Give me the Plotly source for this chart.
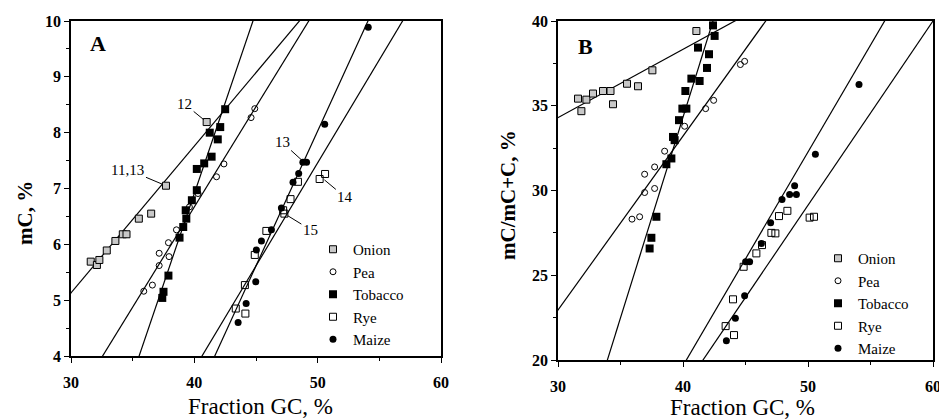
import plotly.graph_objects as go

# ---------------- Panel A data (mC, %) ----------------
A_onion_x = [31.6, 32.1, 32.3, 32.9, 33.6, 34.2, 34.5, 35.5, 36.5, 37.7, 41.0]
A_onion_y = [5.69, 5.63, 5.72, 5.89, 6.06, 6.18, 6.18, 6.46, 6.55, 7.05, 8.19]
A_pea_x = [35.9, 36.6, 37.15, 37.15, 37.9, 37.95, 38.55, 39.6, 40.3, 41.8, 42.4, 44.6, 44.9]
A_pea_y = [5.16, 5.27, 5.62, 5.84, 6.03, 5.78, 6.26, 6.67, 6.91, 7.21, 7.44, 8.27, 8.43]
A_tob_x = [37.4, 37.5, 37.9, 38.8, 39.1, 39.3, 39.35, 39.8, 40.2, 40.2, 40.8, 41.4, 41.25, 41.9, 42.1, 42.5]
A_tob_y = [5.04, 5.15, 5.44, 6.12, 6.31, 6.61, 6.46, 6.79, 6.97, 7.35, 7.45, 7.57, 8.0, 7.88, 8.10, 8.42]
A_rye_x = [43.36, 44.14, 44.1, 44.9, 45.84, 47.2, 47.3, 47.8, 48.4, 50.16, 50.6]
A_rye_y = [4.85, 4.76, 5.27, 5.81, 6.24, 6.61, 6.55, 6.81, 7.12, 7.17, 7.26]
A_maize_x = [43.55, 44.2, 44.98, 45.03, 45.44, 46.25, 47.06, 48.0, 48.46, 48.8, 49.1, 50.57, 54.1]
A_maize_y = [4.60, 4.94, 5.33, 5.90, 6.06, 6.26, 6.65, 7.11, 7.27, 7.47, 7.47, 8.15, 9.89]

# regression lines (slope, intercept) for panel A: onion, pea, tobacco, rye, maize
A_fit_slope = [0.263, 0.359, 0.65, 0.369, 0.483]
A_fit_icpt = [-2.76, -7.69, -19.09, -10.99, -16.12]

# ---------------- Panel B data (mC/mC+C, %) ----------------
B_onion_x = [31.6, 31.87, 32.27, 32.8, 33.6, 34.2, 34.4, 35.52, 36.4, 37.55, 41.07]
B_onion_y = [35.42, 34.68, 35.36, 35.72, 35.87, 35.87, 35.09, 36.3, 36.15, 37.09, 39.41]
B_pea_x = [35.92, 36.53, 36.93, 36.93, 37.73, 37.73, 38.53, 40.13, 41.81, 42.45, 44.59, 44.93]
B_pea_y = [28.31, 28.45, 30.96, 29.88, 31.39, 30.12, 32.32, 33.79, 34.83, 35.32, 37.43, 37.62]
B_tob_x = [37.33, 37.47, 37.87, 38.67, 39.07, 39.2, 39.33, 39.68, 39.95, 40.27, 40.19, 40.67, 41.33, 41.2, 41.92, 42.08, 42.53, 42.4]
B_tob_y = [26.58, 27.21, 28.45, 31.55, 31.89, 33.16, 32.97, 34.15, 34.83, 34.83, 35.87, 36.6, 36.46, 38.43, 37.23, 38.04, 39.12, 39.74]
B_rye_x = [43.41, 44.08, 44.0, 44.85, 45.87, 46.32, 47.07, 47.39, 47.68, 48.35, 50.13, 50.48]
B_rye_y = [22.0, 21.47, 23.58, 25.5, 26.29, 26.78, 27.5, 27.47, 28.49, 28.8, 28.4, 28.45]
B_maize_x = [43.47, 44.19, 44.93, 45.01, 45.33, 46.27, 47.01, 47.92, 48.53, 48.93, 49.07, 50.59, 54.08]
B_maize_y = [21.14, 22.46, 23.79, 25.8, 25.8, 26.88, 28.1, 29.47, 29.76, 30.28, 29.76, 32.14, 36.25]

B_fit_slope = [0.403, 1.026, 2.367, 1.087, 1.261]
B_fit_icpt = [22.21, -7.83, -60.36, -25.22, -30.78]

series_names = ["Onion", "Pea", "Tobacco", "Rye", "Maize"]

SERIF = "Liberation Serif"
styles = [
    dict(symbol="square", size=7, color="#c8c8c8", line=dict(color="black", width=1)),
    dict(symbol="circle-open", size=6, color="black", line=dict(color="black", width=1)),
    dict(symbol="square", size=8, color="black", line=dict(color="black", width=0)),
    dict(symbol="square-open", size=7, color="black", line=dict(color="black", width=1)),
    dict(symbol="circle", size=7, color="black", line=dict(color="black", width=0)),
]

fig = go.Figure()

A_data = [(A_onion_x, A_onion_y), (A_pea_x, A_pea_y), (A_tob_x, A_tob_y), (A_rye_x, A_rye_y), (A_maize_x, A_maize_y)]
B_data = [(B_onion_x, B_onion_y), (B_pea_x, B_pea_y), (B_tob_x, B_tob_y), (B_rye_x, B_rye_y), (B_maize_x, B_maize_y)]

line_x = [25, 65]
for panel, data, slopes, icpts, xa, ya, leg in [
    ("A", A_data, A_fit_slope, A_fit_icpt, "x", "y", "legend"),
    ("B", B_data, B_fit_slope, B_fit_icpt, "x2", "y2", "legend2"),
]:
    for s, b in zip(slopes, icpts):
        fig.add_trace(go.Scatter(x=line_x, y=[s * v + b for v in line_x], mode="lines",
                                 line=dict(color="black", width=1.2), showlegend=False,
                                 xaxis=xa, yaxis=ya, hoverinfo="skip"))
    for name, (xs, ys), st in zip(series_names, data, styles):
        fig.add_trace(go.Scatter(x=xs, y=ys, mode="markers", name=name, marker=st,
                                 xaxis=xa, yaxis=ya, legend=leg, cliponaxis=False))

axis_common = dict(showline=True, linecolor="black", linewidth=1.5, mirror=True,
                   ticks="outside", ticklen=5, tickwidth=1, tickcolor="black",
                   showgrid=False, zeroline=False, automargin=False,
                   ticklabeloverflow="allow",
                   tickfont=dict(family=SERIF, size=16, color="black", weight="bold"))


def minor(d):
    return dict(ticks="outside", ticklen=3, tickcolor="black", dtick=d, showgrid=False)


W, H = 939, 419
fig.update_layout(
    width=W, height=H, margin=dict(l=0, r=0, t=0, b=0, autoexpand=False),
    paper_bgcolor="white", plot_bgcolor="white",
    xaxis=dict(domain=[71 / W, 441 / W], range=[30, 60], dtick=10, anchor="y",
               minor=minor(5), ticklabelstandoff=6, **axis_common),
    yaxis=dict(domain=[1 - 356 / H, 1 - 21 / H], range=[4, 10], dtick=1, anchor="x",
               minor=minor(0.5), **axis_common),
    xaxis2=dict(domain=[558 / W, 933 / W], range=[30, 60], dtick=10, anchor="y2",
                minor=minor(5), ticklabelstandoff=6, **axis_common),
    yaxis2=dict(domain=[1 - 360 / H, 1 - 21 / H], range=[20, 40], dtick=5, anchor="x2",
                minor=minor(2.5), **axis_common),
    legend=dict(x=313 / W, y=1 - 233 / H, xanchor="left", yanchor="top", bgcolor="rgba(0,0,0,0)",
                font=dict(family=SERIF, size=15, color="black"), tracegroupgap=0),
    legend2=dict(x=818 / W, y=1 - 242 / H, xanchor="left", yanchor="top", bgcolor="rgba(0,0,0,0)",
                 font=dict(family=SERIF, size=15, color="black"), tracegroupgap=0),
    showlegend=True,
)

ann_font = dict(family=SERIF, size=15, color="black")
point_labels = [("12", 41.0, 8.19, -22, -18), ("11,13", 37.7, 7.05, -38, -16),
                ("13", 48.9, 7.47, -22, -20), ("14", 50.3, 7.2, 24, 20), ("15", 47.3, 6.55, 26, 16)]
for txt, px, py, ax, ay in point_labels:
    fig.add_annotation(x=px, y=py, xref="x", yref="y", text=txt, showarrow=True, arrowhead=0,
                       arrowwidth=1, arrowcolor="black", ax=ax, ay=ay, standoff=4, font=ann_font)

paper_texts = [
    ("<b>A</b>", 98, 43, 0, 22),
    ("<b>B</b>", 585, 46, 0, 22),
    ("Fraction GC, %", 260, 406, 0, 23),
    ("Fraction GC, %", 742, 407, 0, 23),
    ("<b>mC, %</b>", 25, 213, -90, 21),
    ("<b>mC/mC+C, %</b>", 508, 195, -90, 21),
]
for txt, px, py, ang, fs in paper_texts:
    fig.add_annotation(x=px / W, y=1 - py / H, xref="paper", yref="paper", text=txt, showarrow=False,
                       xanchor="center", yanchor="middle", textangle=ang,
                       font=dict(family=SERIF, size=fs, color="black"))

fig.write_html("out.html")
